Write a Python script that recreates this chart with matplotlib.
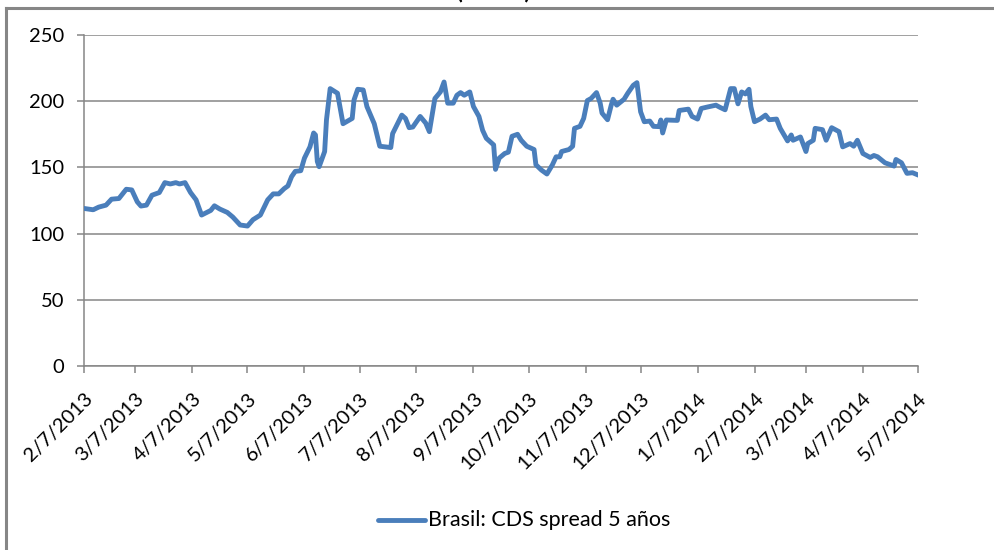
import pandas as pd
import matplotlib
matplotlib.use('Agg')
import matplotlib.pyplot as plt
from matplotlib.lines import Line2D

# Brasil CDS spread 5 years
dates = [
    '2013-02-07', '2013-02-12', '2013-02-15', '2013-02-19', '2013-02-22', '2013-02-26',
    '2013-03-02', '2013-03-05', '2013-03-08', '2013-03-10', '2013-03-13', '2013-03-16',
    '2013-03-20', '2013-03-23', '2013-03-26', '2013-03-29', '2013-03-31', '2013-04-03',
    '2013-04-06', '2013-04-09', '2013-04-12', '2013-04-17', '2013-04-19', '2013-04-22',
    '2013-04-26', '2013-04-29', '2013-05-03', '2013-05-07', '2013-05-10', '2013-05-14',
    '2013-05-18', '2013-05-21', '2013-05-24', '2013-05-27', '2013-05-29', '2013-05-31',
    '2013-06-02', '2013-06-05', '2013-06-07', '2013-06-10', '2013-06-12', '2013-06-13',
    '2013-06-14', '2013-06-15', '2013-06-18', '2013-06-19', '2013-06-21', '2013-06-25',
    '2013-06-28', '2013-07-03', '2013-07-04', '2013-07-06', '2013-07-09', '2013-07-11',
    '2013-07-15', '2013-07-18', '2013-07-24', '2013-07-25', '2013-07-30', '2013-08-01',
    '2013-08-03', '2013-08-05', '2013-08-09', '2013-08-12', '2013-08-14', '2013-08-17',
    '2013-08-20', '2013-08-22', '2013-08-24', '2013-08-27', '2013-08-29', '2013-08-31',
    '2013-09-02', '2013-09-05', '2013-09-07', '2013-09-10', '2013-09-12', '2013-09-14',
    '2013-09-18', '2013-09-19', '2013-09-21', '2013-09-24', '2013-09-26', '2013-09-28',
    '2013-10-01', '2013-10-03', '2013-10-06', '2013-10-10', '2013-10-11', '2013-10-14',
    '2013-10-17', '2013-10-20', '2013-10-22', '2013-10-24', '2013-10-25', '2013-10-29',
    '2013-10-31', '2013-11-01', '2013-11-04', '2013-11-06', '2013-11-08', '2013-11-10',
    '2013-11-13', '2013-11-15', '2013-11-16', '2013-11-19', '2013-11-21', '2013-11-22',
    '2013-11-24', '2013-11-28', '2013-11-30', '2013-12-03', '2013-12-05', '2013-12-07',
    '2013-12-09', '2013-12-12', '2013-12-14', '2013-12-17', '2013-12-18', '2013-12-19',
    '2013-12-21', '2013-12-27', '2013-12-28', '2014-01-02', '2014-01-04', '2014-01-07',
    '2014-01-09', '2014-01-12', '2014-01-17', '2014-01-19', '2014-01-22', '2014-01-25',
    '2014-01-27', '2014-01-29', '2014-01-31', '2014-02-02', '2014-02-04', '2014-02-05',
    '2014-02-07', '2014-02-10', '2014-02-13', '2014-02-15', '2014-02-19', '2014-02-21',
    '2014-02-25', '2014-02-27', '2014-02-28', '2014-03-04', '2014-03-07', '2014-03-08',
    '2014-03-11', '2014-03-12', '2014-03-16', '2014-03-18', '2014-03-21', '2014-03-25',
    '2014-03-27', '2014-03-31', '2014-04-02', '2014-04-04', '2014-04-07', '2014-04-11',
    '2014-04-13', '2014-04-15', '2014-04-19', '2014-04-24', '2014-04-25', '2014-04-28',
    '2014-05-01', '2014-05-04', '2014-05-07',
]
cds = [
    119, 118, 120, 121.5, 126, 126.5,
    133.5, 133, 124, 120.8, 121.5, 129,
    131, 138.5, 137.5, 138.5, 137.5, 138.5,
    131, 125.5, 114, 117.5, 121, 118.5,
    116, 112.5, 106.5, 105.7, 110.5, 114,
    125.5, 130, 130, 134, 136, 143,
    147, 147.5, 157, 165.5, 176, 174.5,
    154.5, 150.5, 162, 186, 209.5, 206,
    183, 187, 201, 209, 208.5, 196,
    183, 166, 165, 175.5, 189.5, 187,
    180, 180.5, 188.5, 183.5, 177, 202,
    207, 214.5, 198.5, 198.5, 204.5, 206.5,
    204.5, 207, 196, 188.5, 178, 172,
    167, 148.5, 157, 160.5, 161.5, 173.5,
    175, 170.5, 166, 163.5, 152, 148,
    145, 152, 158, 158, 162, 163.5,
    166, 179.5, 181, 187, 200.5, 202,
    206.5, 198.5, 191, 186, 197, 201.5,
    197, 201.5, 206, 212, 214, 192,
    184.5, 185, 181, 180.8, 185.8, 176,
    185.8, 185.5, 193, 194, 188.5, 186.5,
    194.5, 195.5, 197, 195.5, 193.5, 209.5,
    209.5, 198, 207, 205.5, 209, 196,
    184.5, 186.5, 189.5, 186, 186.5, 179.5,
    170, 174.5, 170.5, 173, 162, 168,
    170.5, 179.5, 178.5, 170.5, 180, 177,
    165.5, 168, 166, 170.5, 160.5, 157.5,
    159, 158, 153.5, 151, 156, 153.5,
    145.5, 146, 144.3,
]
tick_dates = [
    '2013-02-07', '2013-03-07', '2013-04-07', '2013-05-07', '2013-06-07',
    '2013-07-07', '2013-08-07', '2013-09-07', '2013-10-07', '2013-11-07',
    '2013-12-07', '2014-01-07', '2014-02-07', '2014-03-07', '2014-04-07',
    '2014-05-07',
]
series_label = 'Brasil: CDS spread 5 años'
title = '(USD)'  # only the bottom of the parentheses shows in the reference

x = pd.to_datetime(dates)
ticks = pd.to_datetime(tick_dates)
tick_labels = [f'{d.month}/{d.day}/{d.year}' for d in ticks]

plt.rcParams['font.family'] = ['Lato', 'DejaVu Sans']
grey = '#868686'
blue = '#4a7ebb'

fig = plt.figure(figsize=(9.94, 5.5), dpi=100)
ax = fig.add_axes([84 / 994, 1 - 366 / 550, (918 - 84) / 994, (366 - 35) / 550])

ax.plot(x, cds, color=blue, linewidth=3.5, solid_joinstyle='round', zorder=3)

ax.set_xlim(ticks[0], ticks[-1])
ax.set_ylim(0, 250)
ax.set_yticks(range(0, 251, 50))
ax.set_xticks(ticks)
ax.set_xticklabels(tick_labels, rotation=45, ha='right', rotation_mode='anchor')

ax.grid(axis='y', color=grey, linewidth=1.1)
ax.set_axisbelow(True)
for side in ['top', 'right']:
    ax.spines[side].set_visible(False)
for side in ['left', 'bottom']:
    ax.spines[side].set_color(grey)
    ax.spines[side].set_linewidth(1.1)
ax.tick_params(axis='both', colors=grey, width=1.1, length=5, labelcolor='black', labelsize=14.5)
ax.tick_params(axis='y', pad=9)
ax.tick_params(axis='x', pad=12)

# chart frame (partly cropped in the reference)
fig.add_artist(Line2D([6 / 994, 6 / 994], [0, 1 - 8 / 550], color=grey, linewidth=2.2))
fig.add_artist(Line2D([6 / 994, 1], [1 - 8 / 550, 1 - 8 / 550], color=grey, linewidth=2.2))

# cropped title above the frame
fig.text(494 / 994, 1 + 3 / 550, title, ha='center', va='baseline', fontsize=22)

# legend at the bottom
fig.add_artist(Line2D([378 / 994, 425 / 994], [1 - 520 / 550, 1 - 520 / 550],
                      color=blue, linewidth=3.5, solid_capstyle='round'))
fig.text(428 / 994, 1 - 520 / 550, series_label, ha='left', va='center', fontsize=15.5)

fig.savefig('out.png', dpi=100)
